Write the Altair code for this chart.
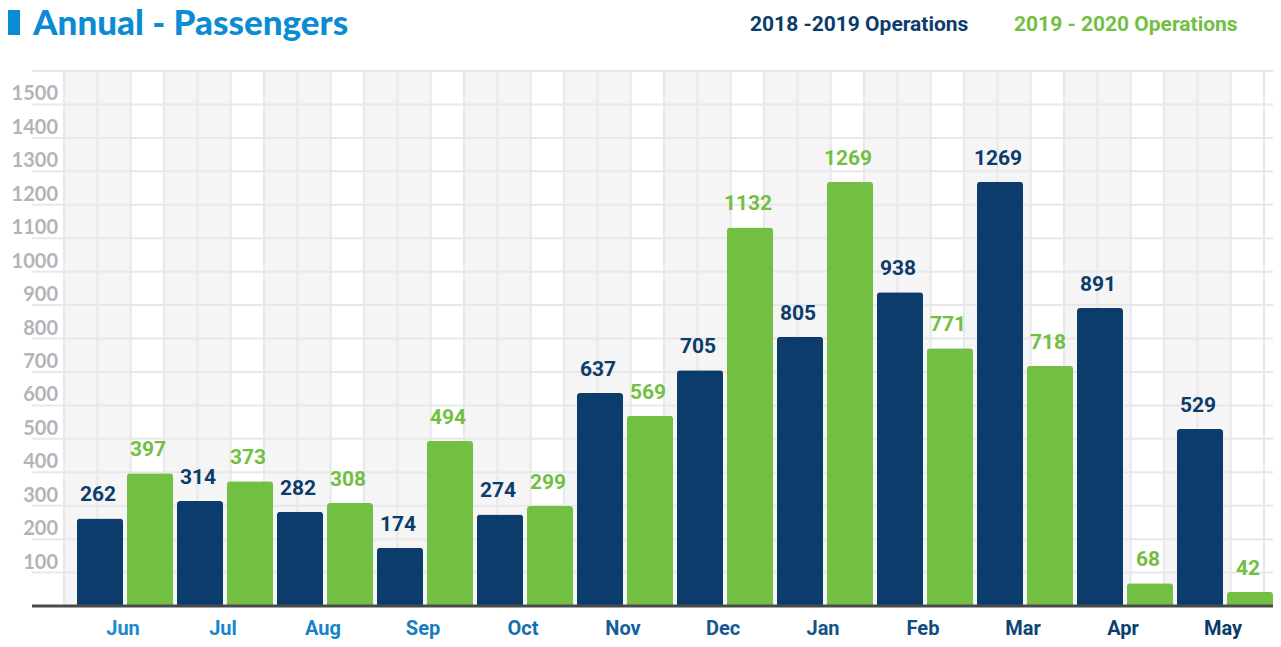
import altair as alt
import pandas as pd

# ---------------- data ----------------
months = ["Jun", "Jul", "Aug", "Sep", "Oct", "Nov", "Dec", "Jan", "Feb", "Mar", "Apr", "May"]
ops_1819 = [262, 314, 282, 174, 274, 637, 705, 805, 938, 1269, 891, 529]
ops_1920 = [397, 373, 308, 494, 299, 569, 1132, 1269, 771, 718, 68, 42]
series_keys = ["s1819", "s1920"]
legend_labels = ["2018 -2019  Operations", "2019 - 2020 Operations"]
grid_values = list(range(100, 1700, 100))
tick_labels = list(range(100, 1600, 100))
title_text = "Annual - Passengers"

# ---------------- style ----------------
NAVY = "#0b3c6b"
GREEN = "#72bf44"
TITLE_BLUE = "#0a8bd3"
TICK_GRAY = "#b3b3b8"
GRID = "#e8e8ea"
CELL = "#f5f5f5"
COND = "Roboto"
month_colors = ["#1a8bd2", "#1987cd", "#1883c8", "#177dc0", "#146fae", "#12619c",
                "#145a91", "#155488", "#104b7d", "#0e4575", "#0c3f6e", "#0b3b69"]

W, H = 1241, 535

bars_df = pd.DataFrame({
    "month": months * 2,
    "series": [series_keys[0]] * len(months) + [series_keys[1]] * len(months),
    "value": ops_1819 + ops_1920,
})
month_df = pd.DataFrame({"month": months})
grid_df = pd.DataFrame({"v": grid_values})
tick_df = pd.DataFrame({"v": tick_labels})
n_cells = 36
cells_df = pd.DataFrame({"c": list(range(n_cells))})
cells_df["c2"] = cells_df["c"] + 1
cells_df = cells_df[cells_df["c"] % 3 != 2]
vlines_df = pd.DataFrame({"c": list(range(n_cells + 1))})
zero_df = pd.DataFrame({"z": [0]})
one_df = pd.DataFrame({"k": [0]})

# ---------------- scales ----------------
yscale = alt.Scale(domain=[0, 1600], nice=False, zero=True)
cscale = alt.Scale(domain=[-0.96, 36.27], nice=False, zero=False)


def xband():
    return alt.X("month:N", sort=months,
                 scale=alt.Scale(type="band", domain=months, paddingInner=0,
                                 paddingOuter=0.205, align=1),
                 axis=None)


def xoff():
    return alt.XOffset("series:N", sort=series_keys,
                       scale=alt.Scale(type="band", domain=series_keys, paddingInner=0, paddingOuter=0))


def scol():
    return alt.Color("series:N", scale=alt.Scale(domain=series_keys, range=[NAVY, GREEN]), legend=None)


cells = alt.Chart(cells_df).mark_rect(fill=CELL).encode(
    x=alt.X("c:Q", scale=cscale, axis=None), x2="c2:Q",
    y=alt.value(0), y2=alt.value(H))

vlines = alt.Chart(vlines_df).mark_rule(color=GRID, strokeWidth=2).encode(
    x=alt.X("c:Q", scale=cscale, axis=None), y=alt.value(0), y2=alt.value(H))

hlines = alt.Chart(grid_df).mark_rule(color=GRID, strokeWidth=2).encode(
    y=alt.Y("v:Q", scale=yscale, axis=None), x=alt.value(0), x2=alt.value(W))

ylabels = alt.Chart(tick_df).mark_text(
    align="right", baseline="bottom", dy=0, font="Lato", fontWeight="bold",
    fontSize=20, color=TICK_GRAY).encode(
    y=alt.Y("v:Q", scale=yscale, axis=None), x=alt.value(26), text="v:Q")

bars = alt.Chart(bars_df).mark_bar(
    width=alt.RelativeBandSize(0.92), cornerRadiusTopLeft=3, cornerRadiusTopRight=3).encode(
    x=xband(), xOffset=xoff(), y=alt.Y("value:Q", scale=yscale, axis=None), color=scol())

bar_text = alt.Chart(bars_df).mark_text(
    baseline="bottom", dy=-13, font=COND, fontWeight="bold", fontSize=21).encode(
    x=xband(), xOffset=xoff(), y=alt.Y("value:Q", scale=yscale, axis=None),
    text="value:Q", color=scol())

baseline = alt.Chart(zero_df).mark_rule(color="#4a4a4a", strokeWidth=3).encode(
    y=alt.Y("z:Q", scale=yscale, axis=None), x=alt.value(0), x2=alt.value(W))

month_text = alt.Chart(month_df).mark_text(
    baseline="alphabetic", font=COND, fontWeight="bold", fontSize=20).encode(
    x=xband(), y=alt.value(H + 29), text="month:N",
    color=alt.Color("month:N", scale=alt.Scale(domain=months, range=month_colors), legend=None))

square = alt.Chart(one_df).mark_rect(color=TITLE_BLUE).encode(
    x=alt.value(-24), x2=alt.value(-12), y=alt.value(-61), y2=alt.value(-36))

title = alt.Chart(one_df).mark_text(
    align="left", baseline="alphabetic", font="Lato", fontWeight=900, fontSize=35,
    color=TITLE_BLUE, text=title_text).encode(x=alt.value(1), y=alt.value(-36))

leg1 = alt.Chart(one_df).mark_text(
    align="left", baseline="middle", font=COND, fontWeight="bold", fontSize=21,
    color=NAVY, text=legend_labels[0]).encode(x=alt.value(718), y=alt.value(-46))

leg2 = alt.Chart(one_df).mark_text(
    align="left", baseline="middle", font=COND, fontWeight="bold", fontSize=21,
    color=GREEN, text=legend_labels[1]).encode(x=alt.value(982), y=alt.value(-46))

chart = alt.layer(
    cells, vlines, hlines, bars, bar_text, baseline, ylabels, month_text,
    square, title, leg1, leg2
).resolve_scale(x="independent", color="independent").properties(
    width=W, height=H, autosize="none",
    padding={"left": 24, "top": 63, "right": 0, "bottom": 33},
    background="white",
).configure_view(stroke=None)

chart.save("out.html", embed_options={"renderer": "svg", "actions": False})
